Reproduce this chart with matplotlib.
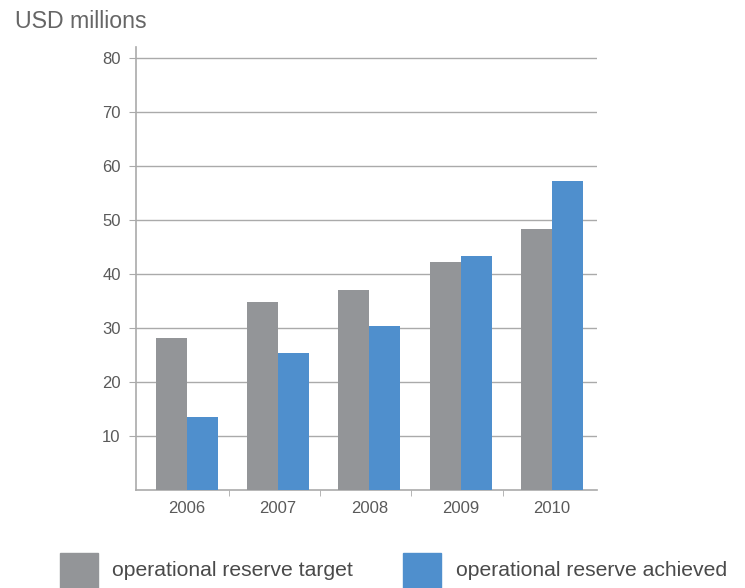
import matplotlib
matplotlib.use("Agg")
import matplotlib.pyplot as plt
from matplotlib.patches import Rectangle

plt.rcParams['font.family'] = ['Liberation Sans', 'DejaVu Sans']

years = ["2006", "2007", "2008", "2009", "2010"]
target = [28.1, 34.8, 37.0, 42.2, 48.3]
achieved = [13.5, 25.4, 30.4, 43.3, 57.2]
yticks = [10, 20, 30, 40, 50, 60, 70, 80]
series_names = ["operational reserve target", "operational reserve achieved"]

c_gray = "#939598"
c_blue = "#4f8fcd"
grid_c = "#aaaaaa"
text_c = "#5a5a5a"

fig = plt.figure(figsize=(7.45, 5.88), dpi=100)
ax = fig.add_axes([136/745, 1-490/588, (597-136)/745, (490-47)/588])

x = list(range(len(years)))
w = 0.34
ax.bar([i - w/2 for i in x], target, width=w, color=c_gray, zorder=3)
ax.bar([i + w/2 for i in x], achieved, width=w, color=c_blue, zorder=3)

ax.set_xlim(-0.555, 4.493)
ax.set_ylim(0, 82)
ax.set_yticks(yticks)
ax.set_yticklabels([str(v) for v in yticks])
ax.yaxis.grid(True, color=grid_c, linewidth=1.0, zorder=0)
ax.set_axisbelow(True)

ax.set_xticks(x)
ax.set_xticklabels(years)
ax.set_xticks([i + 0.46 for i in range(4)], minor=True)
ax.tick_params(axis='x', which='major', length=0, pad=8, labelsize=12, labelcolor=text_c)
ax.tick_params(axis='x', which='minor', length=4, color=grid_c, direction='out')
ax.tick_params(axis='y', length=5, color=grid_c, pad=6, labelsize=12, labelcolor=text_c)

for s in ['top', 'right']:
    ax.spines[s].set_visible(False)
for s in ['left', 'bottom']:
    ax.spines[s].set_color(grid_c)
    ax.spines[s].set_linewidth(1.2)

fig.text(15/745, 1-21.5/588, "USD millions", fontsize=16.7, color="#666666",
         ha='left', va='center')

# legend
fig.patches.append(Rectangle((60/745, 0), 38/745, 35/588, transform=fig.transFigure,
                             color=c_gray, figure=fig))
fig.text(112.5/745, 1-571/588, series_names[0], fontsize=15.2, color="#4a4a4a",
         ha='left', va='center')
fig.patches.append(Rectangle((403/745, 0), 38/745, 35/588, transform=fig.transFigure,
                             color=c_blue, figure=fig))
fig.text(455.5/745, 1-571/588, series_names[1], fontsize=15.2, color="#4a4a4a",
         ha='left', va='center')

fig.savefig("out.png", dpi=100)
